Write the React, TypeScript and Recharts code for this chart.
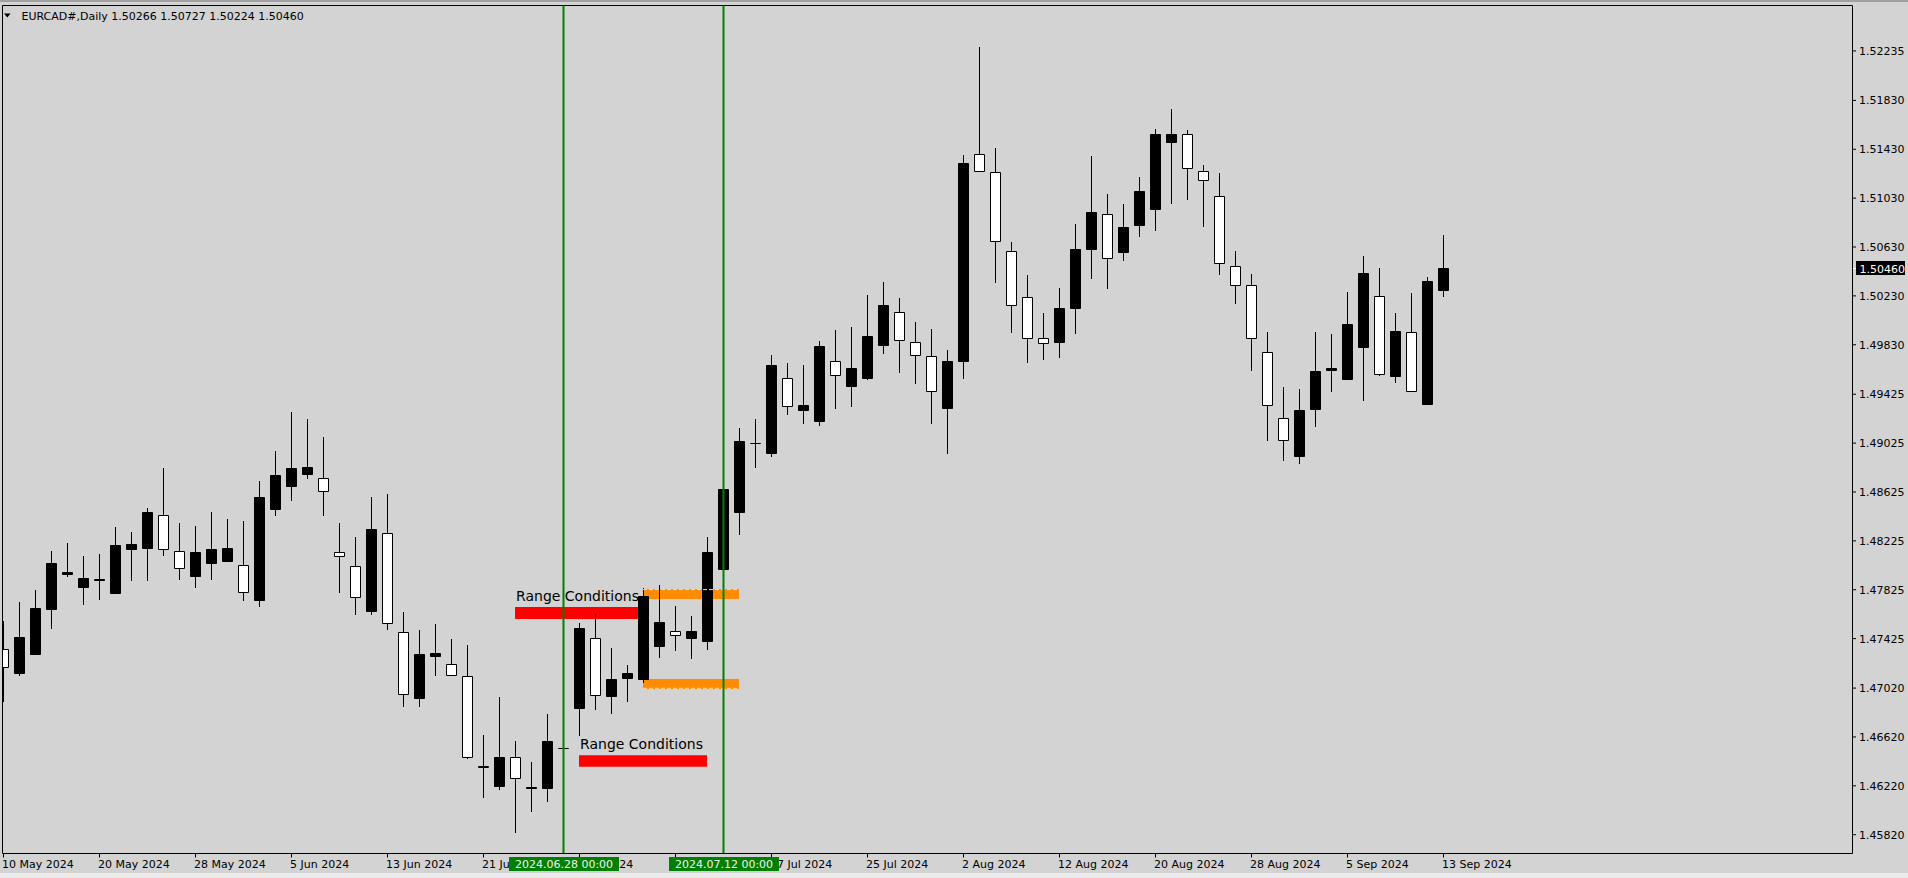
import React from "react";
import { ComposedChart, Bar, XAxis, YAxis, ReferenceLine, ReferenceArea } from "recharts";

const FONT = "'DejaVu Sans', Verdana, sans-serif";
const BG = "#D3D3D3";

// bar index -> date label (every 6th trading day)
const dateTicks = [0, 6, 12, 18, 24, 30, 36, 42, 48, 54, 60, 66, 72, 78, 84, 90];
const dateLabels = [
  "10 May 2024", "20 May 2024", "28 May 2024", "5 Jun 2024", "13 Jun 2024", "21 Jun 2024",
  "1 Jul 2024", "9 Jul 2024", "17 Jul 2024", "25 Jul 2024", "2 Aug 2024", "12 Aug 2024",
  "20 Aug 2024", "28 Aug 2024", "5 Sep 2024", "13 Sep 2024",
];

const priceTicks = [
  1.52235, 1.5183, 1.5143, 1.5103, 1.5063, 1.5023, 1.4983, 1.49425, 1.49025,
  1.48625, 1.48225, 1.47825, 1.47425, 1.4702, 1.4662, 1.4622, 1.4582,
];

// EURCAD# daily, 10 May 2024 .. 13 Sep 2024
const opens = [
  1.47338, 1.47138, 1.47294, 1.47662, 1.47949, 1.47842, 1.479, 1.47793, 1.48153, 1.48162,
  1.48435, 1.4814, 1.47932, 1.48039, 1.48055, 1.48026, 1.47736, 1.48481, 1.48669, 1.48767,
  1.48738, 1.48132, 1.48017, 1.47646, 1.48288, 1.47477, 1.46933, 1.47277, 1.47215, 1.47117,
  1.4638, 1.46213, 1.46454, 1.46192, 1.46197, 1.4653, 1.46852, 1.47428, 1.4695, 1.47092,
  1.47089, 1.47359, 1.47485, 1.47425, 1.474, 1.4799, 1.48456, 1.49015, 1.48939, 1.49557,
  1.49291, 1.49201, 1.49696, 1.49488, 1.49548, 1.49823, 1.50097, 1.49851, 1.49737, 1.49308,
  1.4969, 1.5139, 1.51243, 1.50596, 1.5022, 1.49884, 1.49848, 1.50126, 1.50609, 1.50899,
  1.50585, 1.50798, 1.50937, 1.51485, 1.51554, 1.51251, 1.51047, 1.50474, 1.50318, 1.49769,
  1.49229, 1.48915, 1.49299, 1.49619, 1.49545, 1.49807, 1.50228, 1.4957, 1.49933, 1.4934,
  1.50266,
];
const highs = [
  1.4757, 1.47725, 1.47823, 1.48143, 1.48206, 1.48102, 1.48118, 1.48339, 1.48298, 1.48495,
  1.48822, 1.48372, 1.48347, 1.48462, 1.48405, 1.48388, 1.48716, 1.48961, 1.49278, 1.49223,
  1.49076, 1.48372, 1.48257, 1.48582, 1.48607, 1.47643, 1.47496, 1.47545, 1.47422, 1.47371,
  1.46636, 1.46947, 1.46587, 1.46415, 1.46808, 1.46534, 1.47551, 1.47624, 1.47346, 1.47207,
  1.47842, 1.47862, 1.4769, 1.47608, 1.48257, 1.4865, 1.49147, 1.49223, 1.49747, 1.49682,
  1.49665, 1.49862, 1.49952, 1.49977, 1.50239, 1.50342, 1.50214, 1.50018, 1.4996, 1.49788,
  1.51385, 1.52269, 1.51442, 1.50672, 1.50402, 1.50091, 1.50296, 1.5082, 1.51377, 1.51065,
  1.50984, 1.51205, 1.51598, 1.51761, 1.51589, 1.51303, 1.51235, 1.50596, 1.50408, 1.49933,
  1.49485, 1.49469, 1.49936, 1.49919, 1.50263, 1.50558, 1.5046, 1.50091, 1.50255, 1.50386,
  1.50727,
];
const lows = [
  1.46909, 1.47122, 1.4729, 1.47507, 1.47932, 1.47703, 1.47742, 1.4779, 1.47897, 1.47897,
  1.48104, 1.47905, 1.47842, 1.47905, 1.4805, 1.47736, 1.47687, 1.48432, 1.48554, 1.48735,
  1.48432, 1.47801, 1.47621, 1.47621, 1.47498, 1.46868, 1.46868, 1.47119, 1.47115, 1.46442,
  1.46123, 1.46188, 1.45836, 1.46008, 1.4609, 1.46528, 1.46631, 1.46843, 1.46811, 1.46909,
  1.47064, 1.47264, 1.47326, 1.47261, 1.47335, 1.47985, 1.48276, 1.48825, 1.48915, 1.49256,
  1.49182, 1.49169, 1.49308, 1.49324, 1.49545, 1.49758, 1.49602, 1.49512, 1.49185, 1.48939,
  1.49551, 1.5124, 1.50339, 1.4993, 1.49684, 1.49709, 1.49725, 1.49914, 1.50367, 1.5029,
  1.50519, 1.50708, 1.50765, 1.50986, 1.51011, 1.5079, 1.50397, 1.50167, 1.49619, 1.49046,
  1.48882, 1.48857, 1.4916, 1.49447, 1.4954, 1.49373, 1.49575, 1.4952, 1.4944, 1.49335,
  1.50224,
];
const closes = [
  1.47182, 1.47436, 1.47674, 1.48042, 1.47968, 1.47919, 1.47913, 1.48189, 1.48198, 1.4846,
  1.48153, 1.47998, 1.48132, 1.48157, 1.48165, 1.47796, 1.48582, 1.48762, 1.4882, 1.48828,
  1.48623, 1.48091, 1.47755, 1.4832, 1.47543, 1.46961, 1.47297, 1.47305, 1.47117, 1.4645,
  1.46364, 1.46456, 1.46274, 1.46211, 1.46587, 1.46532, 1.4751, 1.46953, 1.47092, 1.47141,
  1.47777, 1.47559, 1.47444, 1.47488, 1.48132, 1.48648, 1.49041, 1.49025, 1.49663, 1.49324,
  1.49336, 1.49819, 1.49578, 1.49638, 1.499, 1.50154, 1.49859, 1.49737, 1.49442, 1.49696,
  1.51319, 1.51248, 1.5067, 1.50151, 1.49881, 1.49835, 1.5013, 1.50613, 1.50916, 1.50531,
  1.50793, 1.51088, 1.51554, 1.51554, 1.51268, 1.51169, 1.5049, 1.5031, 1.49876, 1.49327,
  1.49041, 1.49297, 1.49616, 1.49638, 1.50001, 1.50419, 1.49581, 1.49944, 1.49442, 1.50353,
  1.5046,
];

const lastPrice = 1.5046;

// vertical markers
const markerBars = [35, 45];
const markerLabels = ["2024.06.28 00:00", "2024.07.12 00:00"];

// "Range Conditions" objects (bar index / price)
const redBoxes = [
  { x1: 31.97, x2: 39.66, y1: 1.47585, y2: 1.47684, text: "Range Conditions" },
  { x1: 35.97, x2: 43.97, y1: 1.46377, y2: 1.4647, text: "Range Conditions" },
];
const orangeBoxes = [
  { x1: 39.97, x2: 45.97, y1: 1.47749, y2: 1.47831, edge: 1.47826 },
  { x1: 39.97, x2: 45.97, y1: 1.47013, y2: 1.47094, edge: 1.47018 },
];

const X_DOMAIN: [number, number] = [-0.0625, 115.5625];
const Y_DOMAIN: [number, number] = [1.456661, 1.526067];

const data = opens.map((o, i) => ({
  i,
  open: o,
  high: highs[i],
  low: lows[i],
  close: closes[i],
  range: [lows[i], highs[i]],
}));

function Candle(props: any) {
  const { x, y, width, height, payload } = props;
  if (x == null || payload == null) return null;
  const { open, close, high, low } = payload;
  const yTop = height >= 0 ? y : y + height;
  const hh = Math.abs(height);
  const span = high - low;
  const toY = (v: number) => (span > 0 ? yTop + ((high - v) / span) * hh : yTop);
  const cx = Math.floor(x + width / 2) + 0.5;
  const yH = Math.round(toY(high));
  const yL = Math.round(toY(low));
  const top = Math.round(toY(Math.max(open, close)));
  const bot = Math.round(toY(Math.min(open, close)));
  const h = Math.max(bot - top - 1, 0);
  const x0 = cx - 5;
  const x1 = cx + 5;
  const y0 = top + 0.5;
  const y1 = y0 + h;
  const bull = close >= open;
  return (
    <g>
      <line x1={cx} x2={cx} y1={yH} y2={Math.max(yL, yH + 1)} stroke="#000" strokeWidth={1} />
      <path d={`M${x0},${y0}H${x1}V${y1}H${x0}Z`} fill={bull ? "#000" : "#fff"} stroke="#000" strokeWidth={1} />
    </g>
  );
}

function DateTick(props: any) {
  const { x, payload } = props;
  const idx = dateTicks.indexOf(payload.value);
  return (
    <text x={x - 1.5} y={868} textAnchor="start" fill="#000" fontSize={11} fontFamily={FONT}>
      {idx >= 0 ? dateLabels[idx] : ""}
    </text>
  );
}

// green time labels of the vertical markers, drawn on a second (invisible) axis so they sit above the dates
function MarkerTick(props: any) {
  const { x, payload } = props;
  const idx = markerBars.indexOf(payload.value);
  if (idx < 0) return null;
  return (
    <g>
      <rect x={Math.round(x) - 55} y={857} width={110} height={14} fill="#008000" />
      <text x={Math.round(x)} y={868} textAnchor="middle" fill="#f2f2f2" fontSize={11} fontFamily={FONT}>
        {markerLabels[idx]}
      </text>
    </g>
  );
}

function RangeLabel(text: string) {
  return (props: any) => {
    const vb = props.viewBox || {};
    return (
      <text x={vb.x + 1} y={vb.y - 6} fill="#000" fontSize={14} fontFamily={FONT}>
        {text}
      </text>
    );
  };
}

function PriceTag(props: any) {
  const vb = props.viewBox || {};
  const right = vb.x + vb.width;
  const yy = Math.round(vb.y);
  return (
    <g>
      <line x1={right} x2={right + 4} y1={yy + 0.5} y2={yy + 0.5} stroke="#fff" strokeWidth={1} />
      <rect x={right + 3.5} y={yy - 7} width={49} height={14} fill="#000" />
      <text x={right + 7} y={yy + 4.5} fill="#fff" fontSize={11} fontFamily={FONT}>
        {lastPrice.toFixed(5)}
      </text>
    </g>
  );
}

export default function App() {
  return (
    <div style={{ position: "fixed", left: 0, top: 0, width: 1908, height: 878, background: BG, overflow: "hidden" }}>
      <div style={{ position: "absolute", left: 0, top: 0, width: 1908, height: 2, background: "#a0a0a0" }} />
      <div style={{ position: "absolute", left: 0, top: 873, width: 1908, height: 5, background: "#ececec" }} />
      <div style={{ position: "absolute", left: 0, top: 0 }}>
        <ComposedChart
          width={1908}
          height={878}
          data={data}
          margin={{ top: 5.5, right: 0, left: 2.5, bottom: 0 }}
        >
          <XAxis
            dataKey="i"
            type="number"
            domain={X_DOMAIN}
            allowDataOverflow
            ticks={dateTicks}
            interval={0}
            height={23.5}
            tickSize={4}
            axisLine={{ stroke: "#000" }}
            tickLine={{ stroke: "#000" }}
            tick={<DateTick />}
          />
          <XAxis
            xAxisId="marks"
            dataKey="i"
            type="number"
            domain={X_DOMAIN}
            allowDataOverflow
            ticks={markerBars}
            interval={0}
            height={1}
            axisLine={false}
            tickLine={false}
            tick={<MarkerTick />}
          />
          <YAxis
            orientation="right"
            type="number"
            domain={Y_DOMAIN}
            allowDataOverflow
            ticks={priceTicks}
            interval={0}
            width={55.5}
            tickSize={3.5}
            tickMargin={3}
            tickFormatter={(v: number) => v.toFixed(5)}
            axisLine={{ stroke: "#000" }}
            tickLine={{ stroke: "#000" }}
            tick={{ fill: "#000", fontSize: 11, fontFamily: FONT }}
          />
          <ReferenceLine x={X_DOMAIN[0]} stroke="#000" strokeWidth={1} />
          <ReferenceLine y={Y_DOMAIN[1]} stroke="#000" strokeWidth={1} />
          {redBoxes.map((b, k) => (
            <ReferenceArea
              key={`red${k}`}
              x1={b.x1}
              x2={b.x2}
              y1={b.y1}
              y2={b.y2}
              fill="#FF0000"
              fillOpacity={1}
              stroke="none"
              label={RangeLabel(b.text)}
            />
          ))}
          {orangeBoxes.map((b, k) => (
            <ReferenceArea
              key={`or${k}`}
              x1={b.x1}
              x2={b.x2}
              y1={b.y1}
              y2={b.y2}
              fill="#FF8C00"
              fillOpacity={1}
              stroke="none"
            />
          ))}
          {orangeBoxes.map((b, k) => (
            <ReferenceLine
              key={`ore${k}`}
              segment={[{ x: b.x1, y: b.edge }, { x: b.x2, y: b.edge }]}
              stroke="#ffd9a8"
              strokeWidth={1}
              strokeDasharray="4 2"
            />
          ))}
          <Bar dataKey="range" barSize={11} shape={<Candle />} isAnimationActive={false} />
          <ReferenceLine y={lastPrice} stroke="none" label={<PriceTag />} />
          {markerBars.map((m, k) => (
            <ReferenceLine key={`m${k}`} x={m} stroke="#008000" strokeWidth={2} />
          ))}
        </ComposedChart>
      </div>
      <svg
        width={400}
        height={30}
        style={{ position: "absolute", left: 0, top: 0, pointerEvents: "none" }}
      >
        <polygon points="4,13.5 10.5,13.5 7.25,17.5" fill="#000" />
        <text x={21.5} y={20} fill="#000" fontSize={11} fontFamily={FONT}>
          {"EURCAD#,Daily  1.50266 1.50727 1.50224 1.50460"}
        </text>
      </svg>
    </div>
  );
}
